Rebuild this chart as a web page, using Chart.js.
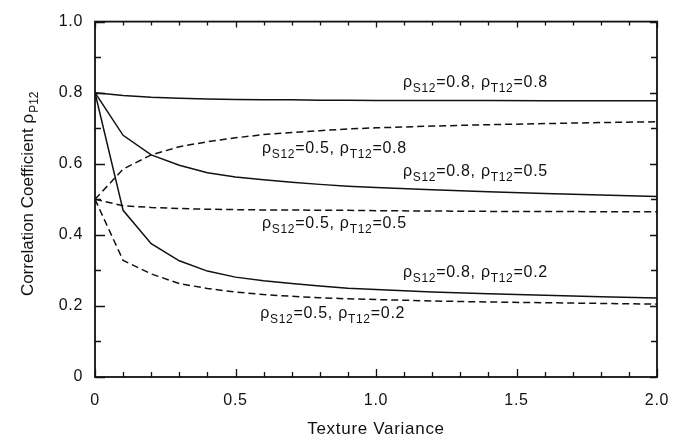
<!DOCTYPE html>
<html><head><meta charset="utf-8">
<style>html,body{margin:0;padding:0;background:#fff;}canvas{display:block}</style>
<script src="https://cdn.jsdelivr.net/npm/chart.js@4.4.1/dist/chart.umd.min.js"></script>
</head><body>
<canvas id="c" width="684" height="443" style="width:684px;height:443px"></canvas>
<script>
// ---- data ----
const xValues   = [0, 0.1, 0.2, 0.3, 0.4, 0.5, 0.6, 0.7, 0.8, 0.9, 1.0, 1.2, 1.4, 1.6, 1.8, 2.0];
const s08_t08   = [0.800, 0.792, 0.787, 0.784, 0.782, 0.781, 0.780, 0.780, 0.779, 0.779, 0.778, 0.778, 0.778, 0.777, 0.777, 0.777];
const s08_t05   = [0.800, 0.680, 0.625, 0.596, 0.575, 0.563, 0.555, 0.548, 0.542, 0.537, 0.533, 0.527, 0.521, 0.516, 0.512, 0.508];
const s08_t02   = [0.800, 0.469, 0.375, 0.327, 0.298, 0.281, 0.271, 0.263, 0.256, 0.250, 0.246, 0.239, 0.234, 0.230, 0.226, 0.222];
const s05_t08   = [0.500, 0.585, 0.625, 0.648, 0.662, 0.673, 0.682, 0.688, 0.693, 0.698, 0.701, 0.706, 0.710, 0.713, 0.716, 0.718];
const s05_t05   = [0.500, 0.482, 0.477, 0.474, 0.472, 0.471, 0.470, 0.470, 0.469, 0.469, 0.468, 0.467, 0.466, 0.466, 0.465, 0.465];
const s05_t02   = [0.500, 0.328, 0.290, 0.263, 0.249, 0.239, 0.232, 0.227, 0.223, 0.220, 0.218, 0.214, 0.211, 0.209, 0.207, 0.205];

const xTickValues = [0, 0.5, 1.0, 1.5, 2.0];
const xTickLabels = ['0', '0.5', '1.0', '1.5', '2.0'];
const yTickValues = [0, 0.2, 0.4, 0.6, 0.8, 1.0];
const yTickLabels = ['0', '0.2', '0.4', '0.6', '0.8', '1.0'];
const xMinorStep = 0.1;
const yMinorStep = 0.1;

const xTitle = 'Texture Variance';
const yTitleMain = 'Correlation Coefficient \u03c1';
const yTitleSub = 'P12';

// curve labels: [rhoS value, rhoT value, anchor x (data), anchor y (data)]
const curveLabels = [
  ['0.8', '0.8', 1.096, 0.815],
  ['0.5', '0.8', 0.594, 0.630],
  ['0.8', '0.5', 1.096, 0.565],
  ['0.5', '0.5', 0.594, 0.420],
  ['0.8', '0.2', 1.096, 0.281],
  ['0.5', '0.2', 0.588, 0.167]
];

// ---- styles ----
const INK = '#111111';
const FONT = '"Liberation Sans", Arial, Helvetica, sans-serif';
const HSPACE = '0.7px';

function ds(values, dashed) {
  return {
    data: xValues.map((x, i) => ({x: x, y: values[i]})),
    borderColor: INK, borderWidth: 1.5,
    borderDash: dashed ? [7, 4] : [],
    pointRadius: 0, tension: 0, fill: false
  };
}

const spacingPlugin = {
  id: 'spacing',
  beforeLayout(chart) { chart.ctx.letterSpacing = HSPACE; },
  beforeDraw(chart) { chart.ctx.letterSpacing = HSPACE; }
};

const framePlugin = {
  id: 'frame',
  afterDraw(chart) {
    const ctx = chart.ctx, a = chart.chartArea;
    const xs = chart.scales.x, ys = chart.scales.y;
    ctx.save();
    ctx.strokeStyle = INK;
    ctx.lineWidth = 1.8;
    ctx.setLineDash([]);
    ctx.strokeRect(a.left, a.top, a.right - a.left, a.bottom - a.top);
    ctx.lineWidth = 1.3;
    ctx.beginPath();
    for (let k = 0; k <= Math.round((xs.max - xs.min) / xMinorStep); k++) {
      const v = xs.min + k * xMinorStep;
      const major = xTickValues.some(t => Math.abs(t - v) < 1e-6);
      const px = Math.round(xs.getPixelForValue(v)) + 0.5;
      const lb = major ? 8 : 5, lt = major ? 6 : 4;
      ctx.moveTo(px, a.bottom); ctx.lineTo(px, a.bottom - lb);
      ctx.moveTo(px, a.top); ctx.lineTo(px, a.top + lt);
    }
    for (let k = 0; k <= Math.round((ys.max - ys.min) / yMinorStep); k++) {
      const v = ys.min + k * yMinorStep;
      const major = yTickValues.some(t => Math.abs(t - v) < 1e-6);
      const py = Math.round(ys.getPixelForValue(v)) + 0.5;
      const ll = major ? 10 : 6, lr = major ? 7 : 6;
      ctx.moveTo(a.left, py); ctx.lineTo(a.left + ll, py);
      ctx.moveTo(a.right, py); ctx.lineTo(a.right - lr, py);
    }
    ctx.stroke();

    // curve labels with subscripts
    ctx.fillStyle = INK;
    ctx.textBaseline = 'alphabetic';
    ctx.textAlign = 'left';
    ctx.letterSpacing = HSPACE;
    const big = '16px ' + FONT, small = '12px ' + FONT;
    curveLabels.forEach(l => {
      let x = xs.getPixelForValue(l[2]);
      const y = ys.getPixelForValue(l[3]);
      const parts = [
        ['\u03c1', big, 0], ['S12', small, 5], ['=' + l[0] + ', \u03c1', big, 0],
        ['T12', small, 5], ['=' + l[1], big, 0]
      ];
      parts.forEach(p => {
        ctx.font = p[1];
        ctx.fillText(p[0], x, y + p[2]);
        x += ctx.measureText(p[0]).width;
      });
    });

    // y-axis title (rotated, with subscript)
    ctx.letterSpacing = '0px';
    const tf = '17px ' + FONT, sf = '12px ' + FONT;
    ctx.font = tf; const w1 = ctx.measureText(yTitleMain).width;
    ctx.font = sf; const w2 = ctx.measureText(yTitleSub).width;
    const cy = (a.top + a.bottom) / 2 - 5;
    ctx.translate(33, cy);
    ctx.rotate(-Math.PI / 2);
    const start = -(w1 + w2) / 2;
    ctx.font = tf; ctx.fillText(yTitleMain, start, 0);
    ctx.font = sf; ctx.fillText(yTitleSub, start + w1 + 1, 5);
    ctx.restore();
  }
};

const ctx = document.getElementById('c').getContext('2d');
new Chart(ctx, {
  type: 'line',
  data: {
    datasets: [
      ds(s08_t08, false), ds(s08_t05, false), ds(s08_t02, false),
      ds(s05_t08, true), ds(s05_t05, true), ds(s05_t02, true)
    ]
  },
  options: {
    responsive: false,
    animation: false,
    devicePixelRatio: 1,
    layout: {padding: {top: 14, right: 27, left: 0, bottom: 0}},
    plugins: {legend: {display: false}, tooltip: {enabled: false}},
    scales: {
      x: {
        type: 'linear', min: 0, max: 2,
        grid: {display: false, drawTicks: false, tickLength: 0},
        border: {display: false},
        afterBuildTicks: s => { s.ticks = xTickValues.map(v => ({value: v})); },
        afterFit: s => { s.height = 66; },
        ticks: {
          color: INK, padding: 14, maxRotation: 0, autoSkip: false,
          font: {family: FONT, size: 16},
          callback: (v, i) => xTickLabels[i]
        },
        title: {display: true, text: xTitle, color: INK,
                font: {family: FONT, size: 17}, padding: {top: 0, bottom: 3}}
      },
      y: {
        type: 'linear', min: 0, max: 1,
        grid: {display: false, drawTicks: false, tickLength: 0},
        border: {display: false},
        afterBuildTicks: s => { s.ticks = yTickValues.map(v => ({value: v})); },
        afterFit: s => { s.width = 95; },
        ticks: {
          color: INK, padding: 12, autoSkip: false,
          font: {family: FONT, size: 16},
          callback: (v, i) => yTickLabels[i]
        },
        title: {display: false}
      }
    }
  },
  plugins: [spacingPlugin, framePlugin]
});
</script>
</body></html>
